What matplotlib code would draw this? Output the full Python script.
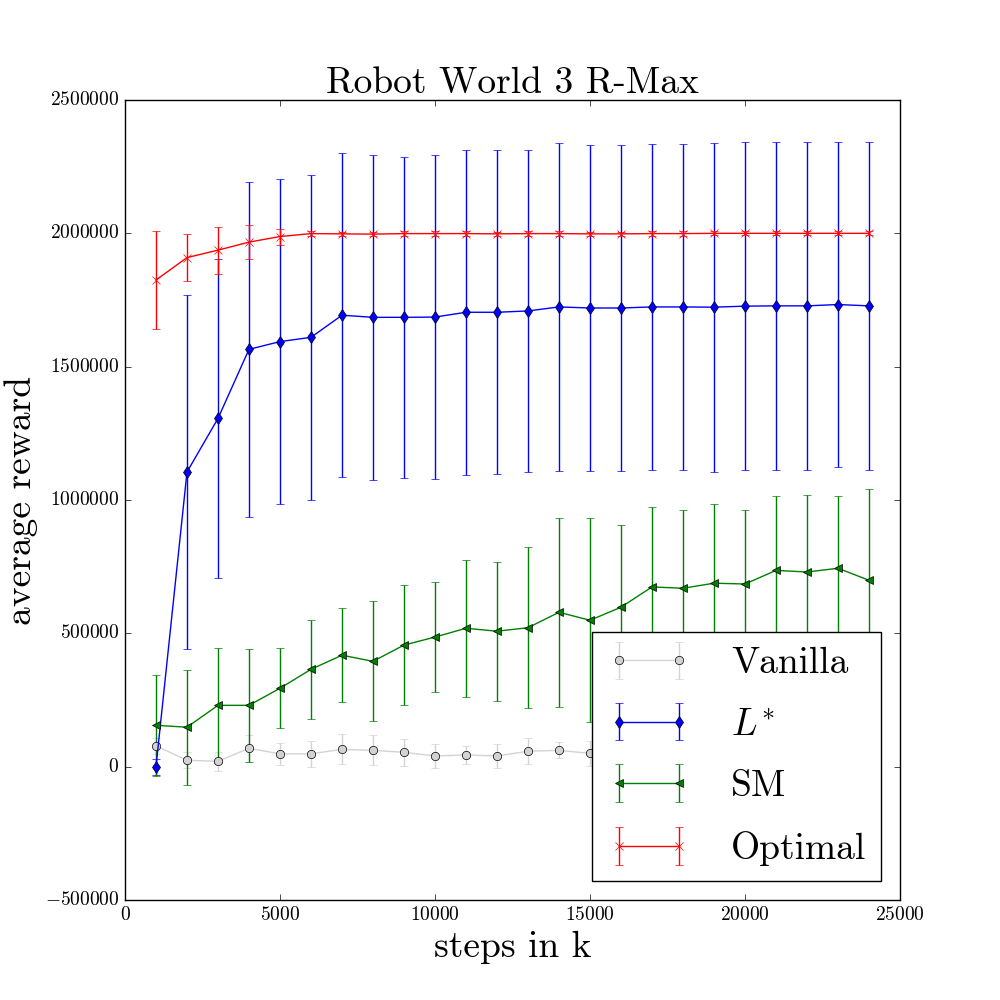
import numpy as np
import matplotlib
matplotlib.use('Agg')
import matplotlib.pyplot as plt

plt.style.use('classic')
plt.rcParams['font.family'] = 'serif'
plt.rcParams['font.serif'] = ['cmr10']
plt.rcParams['mathtext.fontset'] = 'cm'
plt.rcParams['axes.formatter.use_mathtext'] = True

steps = np.arange(1000, 25000, 1000)

vanilla = [78000, 24000, 20000, 69000, 48000, 48000, 65000, 61000, 54000, 40000,
           44000, 40000, 58000, 61000, 50000, 52000, 55000, 50000, 53000, 48000,
           55000, 50000, 52000, 50000]
vanilla_err = [30000, 30000, 36000, 50000, 40000, 48000, 56000, 56000, 51000, 46000,
               35000, 44000, 49000, 30000, 48000, 45000, 45000, 45000, 45000, 45000,
               45000, 45000, 45000, 45000]

lstar = [0, 1105000, 1306000, 1565000, 1594000, 1610000, 1693000, 1685000, 1685000,
         1686000, 1704000, 1704000, 1709000, 1724000, 1720000, 1720000, 1724000,
         1724000, 1723000, 1727000, 1728000, 1728000, 1733000, 1728000]
lstar_err = [30000, 663000, 598000, 628000, 610000, 610000, 608000, 610000, 602000,
             607000, 610000, 607000, 605000, 614000, 612000, 612000, 612000, 612000,
             617000, 615000, 615000, 615000, 610000, 614000]

sm = [155000, 148000, 230000, 230000, 294000, 365000, 418000, 395000, 456000, 486000,
      519000, 508000, 521000, 579000, 549000, 598000, 674000, 669000, 688000, 685000,
      736000, 730000, 744000, 699000]
sm_err = [190000, 215000, 215000, 213000, 150000, 185000, 177000, 225000, 225000,
          205000, 256000, 260000, 302000, 354000, 383000, 307000, 301000, 295000,
          296000, 279000, 278000, 288000, 270000, 341000]

optimal = [1825000, 1909000, 1937000, 1967000, 1988000, 1999000, 1998000, 1997000,
           1999000, 1999000, 1999000, 1998000, 1999000, 1999000, 1998000, 1998000,
           1999000, 1999000, 2000000, 2000000, 2000000, 2000000, 2000000, 2000000]
optimal_err = [185000, 88000, 88000, 63000, 30000, 8000, 8000, 8000, 8000, 8000,
               8000, 8000, 8000, 8000, 8000, 8000, 8000, 8000, 8000, 8000,
               8000, 8000, 8000, 8000]

fig = plt.figure(figsize=(10, 10), dpi=100)
ax = fig.add_axes([0.125, 0.1, 0.775, 0.8])

ax.errorbar(steps, vanilla, yerr=vanilla_err, color='lightgray', marker='o',
            markerfacecolor='lightgray', markeredgecolor='k', label='Vanilla')
ax.errorbar(steps, lstar, yerr=lstar_err, color='b', marker='d',
            markerfacecolor='b', markeredgecolor='k', label='$L^{*}$')
ax.errorbar(steps, sm, yerr=sm_err, color='g', marker='<',
            markerfacecolor='g', markeredgecolor='k', label='SM')
ax.errorbar(steps, optimal, yerr=optimal_err, color='r', marker='x',
            markeredgecolor='r', label='Optimal')

ax.set_xlim(0, 25000)
ax.set_ylim(-500000, 2500000)
ax.set_title('Robot World 3 R-Max', fontsize=27)
ax.set_xlabel('steps in k', fontsize=27)
ax.set_ylabel('average reward', fontsize=27)
ax.tick_params(labelsize=14)
ax.legend(loc='lower right', fontsize=27, numpoints=2, labelspacing=0.75,
          handlelength=2.2, handletextpad=1.1)

fig.savefig('out.png', dpi=100)
